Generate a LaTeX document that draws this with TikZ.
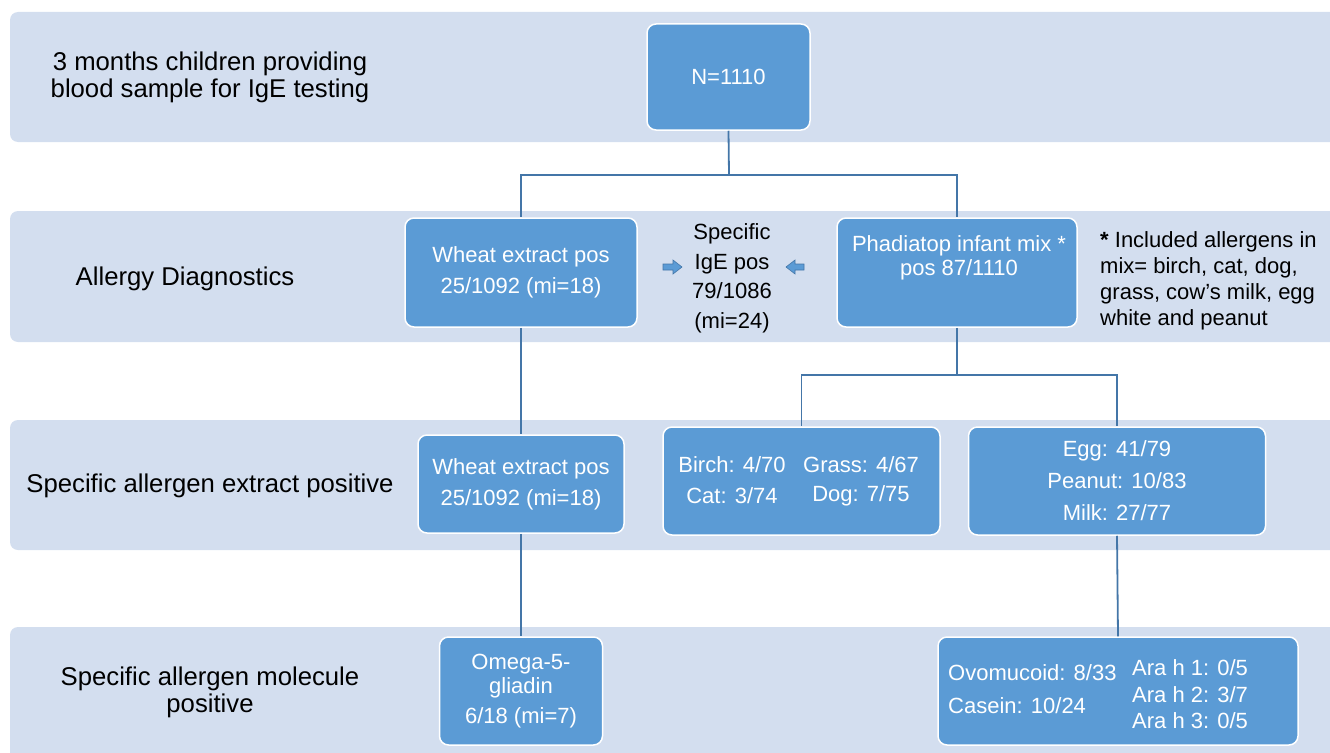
\documentclass[tikz,border=0pt]{standalone}
\usepackage{fontspec}
\setmainfont{Liberation Sans}
\definecolor{bandc}{RGB}{211,222,239}
\definecolor{boxc}{RGB}{91,155,213}
\definecolor{linec}{RGB}{68,118,168}
\begin{document}
\begin{tikzpicture}[x=1pt,y=-1pt,
  blk/.style={draw=white, line width=1.5pt, fill=boxc, rounded corners=9pt, text=white,
    font=\fontsize{22}{31}\selectfont, align=center, inner sep=0pt},
  wtxt/.style={text=white, font=\fontsize{22}{24}\selectfont, inner sep=0pt},
  conn/.style={draw=linec, line width=1.8pt},
  lbl/.style={font=\fontsize{25.7}{27}\selectfont, align=center, inner sep=0pt},
  bandfill/.style={fill=bandc, rounded corners=8pt}]
\useasboundingbox (0,0) rectangle (1330,752);
\clip (0,0) rectangle (1330,752);
% bands
\fill[bandfill] (10,12) rectangle (1345,142);
\fill[bandfill] (10,211) rectangle (1345,342);
\fill[bandfill] (10,420) rectangle (1345,550);
\fill[bandfill] (10,627) rectangle (1345,770);
% left labels
\node[lbl] (l1) at (210,77.5) {3 months children providing\\blood sample for IgE testing};
\node[lbl] (l2) at (185,279) {Allergy Diagnostics};
\node[lbl] (l3) at (210,486) {Specific allergen extract positive};
\node[lbl] (l4) at (210,692.5) {Specific allergen molecule\\positive};
% junction coordinates
\coordinate (j1) at (729,175);
\coordinate (j2) at (957,375);
% boxes
\node[blk, minimum width=163pt, minimum height=106pt] (n) at (728.5,77) {N=1110};
\node[blk, minimum width=232pt, minimum height=109pt] (wheat2) at (521,272.5) {Wheat extract pos\\25/1092 (mi=18)};
\node[blk, minimum width=240pt, minimum height=109pt] (phad) at (957,272.5) {};
\node[blk, minimum width=206pt, minimum height=98pt] (wheat3) at (521,484) {Wheat extract pos\\25/1092 (mi=18)};
\node[blk, minimum width=277pt, minimum height=108pt] (birch) at (801.5,481) {};
\node[blk, minimum width=297pt, minimum height=108pt, font=\fontsize{22}{32}\selectfont] (egg) at (1117,481) {Egg: 41/79\\Peanut: 10/83\\Milk: 27/77};
\node[blk, minimum width=163pt, minimum height=108pt, font=\fontsize{22}{24}\selectfont] (omega) at (521,691) {Omega-5-\\gliadin\\[6pt]6/18 (mi=7)};
\node[blk, minimum width=360pt, minimum height=108pt] (ara) at (1118,691) {};
% connectors
\draw[conn] (n.south) -- (j1);
\draw[conn] (j1) -| (wheat2.north);
\draw[conn] (j1) -| (phad.north);
\draw[conn] (wheat2.south) -- (wheat3.north);
\draw[conn] (phad.south) -- (j2);
\draw[conn] (j2) -| (birch.north);
\draw[conn] (j2) -| (egg.north);
\draw[conn] (wheat3.south) -- (omega.north);
\draw[conn] (egg.south) -- (ara.north);
% texts inside boxes
\node[wtxt, align=center] (phadt) at (959,258) {Phadiatop infant mix *\\pos 87/1110};
\node[wtxt] (b1) at (732,465) {Birch: 4/70};
\node[wtxt] (b2) at (861,465) {Grass: 4/67};
\node[wtxt] (b3) at (732,496) {Cat: 3/74};
\node[wtxt] (b4) at (861,496) {Dog: 7/75};
\node[wtxt, anchor=west] (a1) at (948,673) {Ovomucoid: 8/33};
\node[wtxt, anchor=west] (a2) at (948,706) {Casein: 10/24};
\node[wtxt, anchor=west] (a3) at (1132,668) {Ara h 1: 0/5};
\node[wtxt, anchor=west] (a4) at (1132,695) {Ara h 2: 3/7};
\node[wtxt, anchor=west] (a5) at (1132,721) {Ara h 3: 0/5};
% middle text
\node[font=\fontsize{22}{29.5}\selectfont, align=center, inner sep=0pt] (ige) at (732,278.5) {Specific\\IgE pos\\79/1086\\(mi=24)};
\node[font=\fontsize{22}{26}\selectfont, align=left, anchor=west, inner sep=0pt] (note) at (1100,281) {\textbf{*} Included allergens in\\mix= birch, cat, dog,\\grass, cow’s milk, egg\\white and peanut};
% block arrows
\filldraw[fill=boxc, draw=linec, line width=0.6pt] (663,264)--(673,264)--(673,260)--(682,267)--(673,274)--(673,270)--(663,270)--cycle;
\filldraw[fill=boxc, draw=linec, line width=0.6pt] (804,264)--(795,264)--(795,260)--(786,267)--(795,274)--(795,270)--(804,270)--cycle;
\end{tikzpicture}
\end{document}
